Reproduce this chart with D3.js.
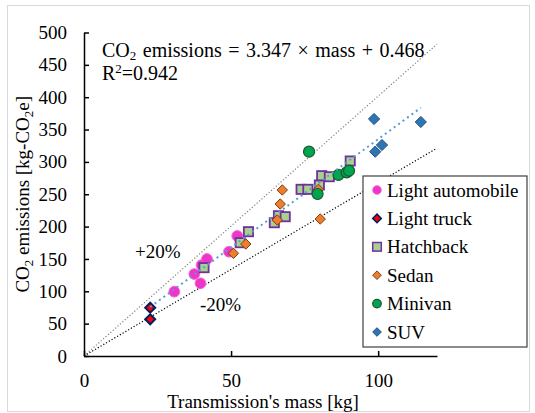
<!DOCTYPE html>
<html>
<head>
<meta charset="utf-8">
<script src="https://cdn.jsdelivr.net/npm/d3@7"></script>
<style>
	body { margin: 0; background: #fff; }
	text { font-family: "Liberation Serif", "Times New Roman", serif; fill: #000; }
	.axis path, .axis line { stroke: #000; stroke-width: 1.5; }
	.axis text { font-size: 19px; font-family: "Liberation Serif", "Times New Roman", serif; }
</style>
</head>
<body>
<div id="chart"></div>
<script>

var seriesNames = ["Light automobile", "Light truck", "Hatchback", "Sedan", "Minivan", "SUV"];

var lightAutoMass = [30.7, 37.5, 39.6, 40.0, 41.8, 49.3, 52.1];
var lightAutoCO2  = [99.4, 126.7, 112.4, 140.6, 149.9, 161.2, 185.5];

var lightTruckMass = [22.5, 22.5];
var lightTruckCO2  = [74.7, 56.7];

var hatchMass = [40.8, 53.1, 55.9, 64.7, 66.1, 68.4, 73.8, 76.1, 80.0, 80.8, 83.4, 90.5];
var hatchCO2  = [136.5, 175.1, 192.1, 206.0, 216.8, 215.3, 257.6, 257.6, 264.3, 278.7, 277.1, 301.4];

var sedanMass = [50.8, 55.0, 65.7, 66.7, 67.4, 79.7, 80.3];
var sedanCO2  = [158.7, 173.1, 210.2, 234.9, 256.6, 257.6, 211.7];

var minivanMass = [76.5, 79.4, 86.5, 89.3, 90.1];
var minivanCO2  = [315.8, 250.4, 279.8, 283.9, 286.4];

var suvMass = [98.6, 114.5, 101.3, 99.0];
var suvCO2  = [366.3, 361.7, 326.1, 315.8];

var slope = 3.347, intercept = 0.468;
var xTicks = [0, 50, 100];
var yTicks = [0, 50, 100, 150, 200, 250, 300, 350, 400, 450, 500];


var W = 535, H = 413;
var margins = {left: 84, right: 98, top: 32.5, bottom: 57};

var xScale = d3.scaleLinear().domain([0, 120]).range([margins.left, W - margins.right]);
var yScale = d3.scaleLinear().domain([0, 500]).range([H - margins.bottom, margins.top]);

var svg = d3.select("#chart")
	.append("svg")
		.attr("width", W)
		.attr("height", H);

// chart area border
svg.append("rect")
	.attr("x", 7.5).attr("y", 5.5)
	.attr("width", 522).attr("height", 406)
	.attr("fill", "none")
	.attr("stroke", "#d9d9d9");

function diamond(h) {
	return "M0," + (-h) + "L" + h + ",0L0," + h + "L" + (-h) + ",0Z";
}

var styles = {
	"Light automobile": {shape: "circle", size: 5.4, fill: "#EE35C8", stroke: "#F26AD6", sw: 1},
	"Light truck":      {shape: "diamond", size: 5, fill: "#FF0000", stroke: "#002060", sw: 2},
	"Hatchback":        {shape: "square", size: 4.6, fill: "#A9D18E", stroke: "#7030A0", sw: 1.8},
	"Sedan":            {shape: "diamond", size: 5.2, fill: "#ED7D31", stroke: "#843C0C", sw: 1},
	"Minivan":          {shape: "circle", size: 5.5, fill: "#00A550", stroke: "#1E5631", sw: 1.2},
	"SUV":              {shape: "diamond", size: 5.6, fill: "#2E75B6", stroke: "#1F4E79", sw: 1}
};

var series = [
	{name: "Light automobile", xs: lightAutoMass, ys: lightAutoCO2},
	{name: "Light truck", xs: lightTruckMass, ys: lightTruckCO2},
	{name: "Hatchback", xs: hatchMass, ys: hatchCO2},
	{name: "Sedan", xs: sedanMass, ys: sedanCO2},
	{name: "Minivan", xs: minivanMass, ys: minivanCO2},
	{name: "SUV", xs: suvMass, ys: suvCO2}
];

function drawMarker(g, st) {
	if(st.shape == "circle") {
		g.append("circle").attr("r", st.size);
	} else if(st.shape == "square") {
		g.append("rect").attr("x", -st.size).attr("y", -st.size).attr("width", 2 * st.size).attr("height", 2 * st.size);
	} else {
		g.append("path").attr("d", diamond(st.size));
	}
	g.selectAll("*")
		.attr("fill", st.fill)
		.attr("stroke", st.stroke)
		.attr("stroke-width", st.sw);
}

// +/-20% guide lines
var xMax = 120;
svg.append("line")
	.attr("x1", xScale(0)).attr("y1", yScale(0))
	.attr("x2", xScale(xMax)).attr("y2", yScale(1.2 * slope * xMax))
	.attr("stroke", "#808080").attr("stroke-width", 1.2).attr("stroke-dasharray", "1.2,2");

svg.append("line")
	.attr("x1", xScale(0)).attr("y1", yScale(0))
	.attr("x2", xScale(xMax)).attr("y2", yScale(0.8 * slope * xMax))
	.attr("stroke", "#000").attr("stroke-width", 1.2).attr("stroke-dasharray", "1.2,2");

// axes
svg.append("g")
	.attr("class", "x axis")
	.attr("transform", "translate(0," + yScale(0) + ")")
	.call(d3.axisBottom(xScale).tickValues(xTicks).tickSizeInner(-5).tickSizeOuter(0).tickPadding(18));

svg.append("g")
	.attr("class", "y axis")
	.attr("transform", "translate(" + xScale(0) + ",0)")
	.call(d3.axisLeft(yScale).tickValues(yTicks).tickSizeInner(-5).tickSizeOuter(0).tickPadding(17));

// points
series.forEach(function(s) {
	var st = styles[s.name];
	svg.append("g")
		.selectAll("g")
		.data(s.xs.map(function(x, i) { return [x, s.ys[i]]; }))
		.enter().append("g")
			.attr("transform", function(d) { return "translate(" + xScale(d[0]) + "," + yScale(d[1]) + ")"; })
			.each(function() { drawMarker(d3.select(this), st); });
});

// linear trend line over all points
var allMass = [].concat(lightAutoMass, lightTruckMass, hatchMass, sedanMass, minivanMass, suvMass);
var fitExt = d3.extent(allMass);
svg.append("line")
	.attr("x1", xScale(fitExt[0])).attr("y1", yScale(slope * fitExt[0] + intercept))
	.attr("x2", xScale(fitExt[1])).attr("y2", yScale(slope * fitExt[1] + intercept))
	.attr("stroke", "#5B9BD5").attr("stroke-width", 2).attr("stroke-dasharray", "2,3.5");

// equation
var eq = svg.append("text").attr("x", 102).attr("y", 57)
	.style("font-size", "20px").style("word-spacing", "1.5px");
eq.append("tspan").text("CO");
eq.append("tspan").attr("dy", 3).style("font-size", "13px").text("2");
eq.append("tspan").attr("dy", -3).text(" emissions = 3.347 \u00d7 mass + 0.468");

var r2 = svg.append("text").attr("x", 102).attr("y", 80).style("font-size", "20px");
r2.append("tspan").text("R");
r2.append("tspan").attr("dy", -7).style("font-size", "13px").text("2");
r2.append("tspan").attr("dy", 7).text("=0.942");

svg.append("text").attr("x", 135).attr("y", 258).style("font-size", "19px").text("+20%");
svg.append("text").attr("x", 200).attr("y", 311).style("font-size", "19px").text("-20%");

// axis titles
svg.append("text")
	.attr("x", 263).attr("y", 408)
	.attr("text-anchor", "middle")
	.style("font-size", "19px")
	.text("Transmission's mass [kg]");

var yt = svg.append("text")
	.attr("transform", "translate(29," + ((margins.top + H - margins.bottom) / 2) + ") rotate(-90)")
	.attr("text-anchor", "middle")
	.style("font-size", "19px");
yt.append("tspan").text("CO");
yt.append("tspan").attr("dy", 4).style("font-size", "13px").text("2");
yt.append("tspan").attr("dy", -4).text(" emissions [kg-CO");
yt.append("tspan").attr("dy", 4).style("font-size", "13px").text("2");
yt.append("tspan").attr("dy", -4).text("e]");

// legend
var legend = svg.append("g").attr("transform", "translate(363,176)");
legend.append("rect")
	.attr("width", 164).attr("height", 171)
	.attr("fill", "#fff")
	.attr("stroke", "#404040").attr("stroke-width", 1.2);

var rows = legend.selectAll("g.row")
	.data(seriesNames)
	.enter().append("g")
		.attr("class", "row")
		.attr("transform", function(d, i) { return "translate(14," + (14 + i * 28.4) + ")"; });

rows.each(function(d) {
	var st = styles[d];
	var small = {shape: st.shape, size: 4.3, fill: st.fill, stroke: st.stroke, sw: Math.min(st.sw, 1.5)};
	drawMarker(d3.select(this), small);
});

rows.append("text")
	.attr("x", 10).attr("dy", "0.35em")
	.style("font-size", "19px")
	.text(function(d) { return d; });

</script>
</body>
</html>
